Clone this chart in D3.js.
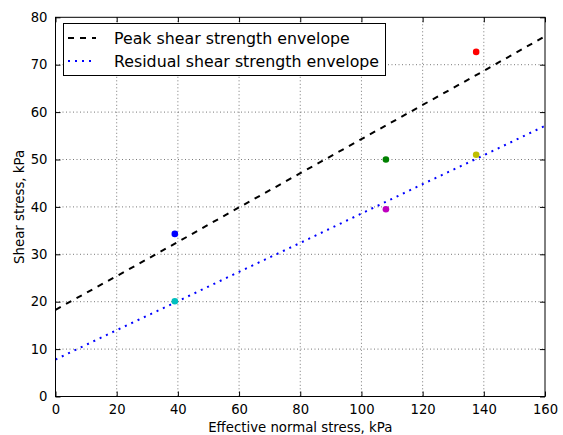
<!DOCTYPE html>
<html><head><meta charset="utf-8">
<script src="https://cdn.jsdelivr.net/npm/d3@7"></script>
<style>body{margin:0;background:#fff;} text{font-family:"DejaVu Sans",sans-serif;}</style>
</head><body><svg id="c" width="563" height="435"></svg>
<script>
const envX = [0, 20, 40, 60, 80, 100, 120, 140, 160];
const peakY = [18.3, 25.4, 32.6, 39.9, 47.1, 54.3, 61.5, 68.7, 76.0];
const residualY = [7.8, 14.0, 20.1, 26.3, 32.4, 38.6, 44.8, 50.9, 57.1];
const pointX = [39, 39, 108, 108, 137.5, 137.5];
const pointY = [34.3, 20.1, 50.0, 39.5, 72.7, 51.0];
const pointColors = ["#0000ff", "#00bfbf", "#008000", "#bf00bf", "#ff0000", "#bfbf00"];
const xTicks = [0, 20, 40, 60, 80, 100, 120, 140, 160];
const yTicks = [0, 10, 20, 30, 40, 50, 60, 70, 80];
const seriesNames = ["Peak shear strength envelope", "Residual shear strength envelope"];

const svg = d3.select("#c");
const L = 55.5, R = 545, T = 17.3, B = 396.5;
const x = d3.scaleLinear().domain([0, 160]).range([L, R]);
const y = d3.scaleLinear().domain([0, 80]).range([B, T]);

// grid
const g = svg.append("g");
g.selectAll(".gx").data(xTicks.slice(1, -1)).join("line")
  .attr("x1", d => x(d)).attr("x2", d => x(d)).attr("y1", T).attr("y2", B)
  .attr("stroke", "#555").attr("stroke-width", 0.8).attr("stroke-dasharray", "1,2.5");
g.selectAll(".gy").data(yTicks.slice(1, -1)).join("line")
  .attr("y1", d => y(d)).attr("y2", d => y(d)).attr("x1", L).attr("x2", R)
  .attr("stroke", "#555").attr("stroke-width", 0.8).attr("stroke-dasharray", "1,2.5");

// lines
const line = d3.line().x(d => x(d[0])).y(d => y(d[1]));
svg.append("path").datum(envX.map((v, i) => [v, peakY[i]])).attr("d", line)
  .attr("fill", "none").attr("stroke", "#000").attr("stroke-width", 2).attr("stroke-dasharray", "6,6");
svg.append("path").datum(envX.map((v, i) => [v, residualY[i]])).attr("d", line)
  .attr("fill", "none").attr("stroke", "#0000ff").attr("stroke-width", 2).attr("stroke-dasharray", "2,5");

// points
svg.selectAll(".pt").data(pointX.map((v, i) => [v, pointY[i], pointColors[i]])).join("circle")
  .attr("cx", d => x(d[0])).attr("cy", d => y(d[1])).attr("r", 3.3).attr("fill", d => d[2]);

// axes with inward ticks on all sides
const axB = d3.axisBottom(x).tickValues(xTicks).tickSize(-5).tickPadding(8);
const axT = d3.axisTop(x).tickValues(xTicks).tickSize(-5).tickFormat("");
const axLft = d3.axisLeft(y).tickValues(yTicks).tickSize(-5).tickPadding(8);
const axRt = d3.axisRight(y).tickValues(yTicks).tickSize(-5).tickFormat("");
function style(sel) {
  sel.select(".domain").remove();
  sel.selectAll("line").attr("stroke", "#000");
  sel.selectAll("text").attr("font-size", 13.2).attr("fill", "#000").attr("font-family", "DejaVu Sans");
}
svg.append("g").attr("transform", `translate(0,${B})`).call(axB).call(style);
svg.append("g").attr("transform", `translate(0,${T})`).call(axT).call(style);
svg.append("g").attr("transform", `translate(${L},0)`).call(axLft).call(style);
svg.append("g").attr("transform", `translate(${R},0)`).call(axRt).call(style);

svg.append("rect").attr("x", L).attr("y", T).attr("width", R - L).attr("height", B - T)
  .attr("fill", "none").attr("stroke", "#000").attr("stroke-width", 1);

// axis labels
svg.append("text").attr("x", (L + R) / 2).attr("y", 432).attr("text-anchor", "middle")
  .attr("font-size", 13.3).text("Effective normal stress, kPa");
svg.append("text").attr("transform", `translate(24,${(T + B) / 2}) rotate(-90)`).attr("text-anchor", "middle")
  .attr("font-size", 13.3).text("Shear stress, kPa");

// legend
const lg = svg.append("g");
lg.append("rect").attr("x", 63.5).attr("y", 23.5).attr("width", 322).attr("height", 52)
  .attr("fill", "#fff").attr("stroke", "#000").attr("stroke-width", 1);
const legStyles = [{c: "#000", d: "6,6"}, {c: "#0000ff", d: "2,5"}];
seriesNames.forEach((nm, i) => {
  const yy = 38 + i * 23;
  lg.append("line").attr("x1", 68).attr("x2", 96).attr("y1", yy).attr("y2", yy)
    .attr("stroke", legStyles[i].c).attr("stroke-width", 2).attr("stroke-dasharray", legStyles[i].d);
  lg.append("text").attr("x", 114).attr("y", yy + 5.5).attr("font-size", 15.8).text(nm);
});
</script></body></html>
